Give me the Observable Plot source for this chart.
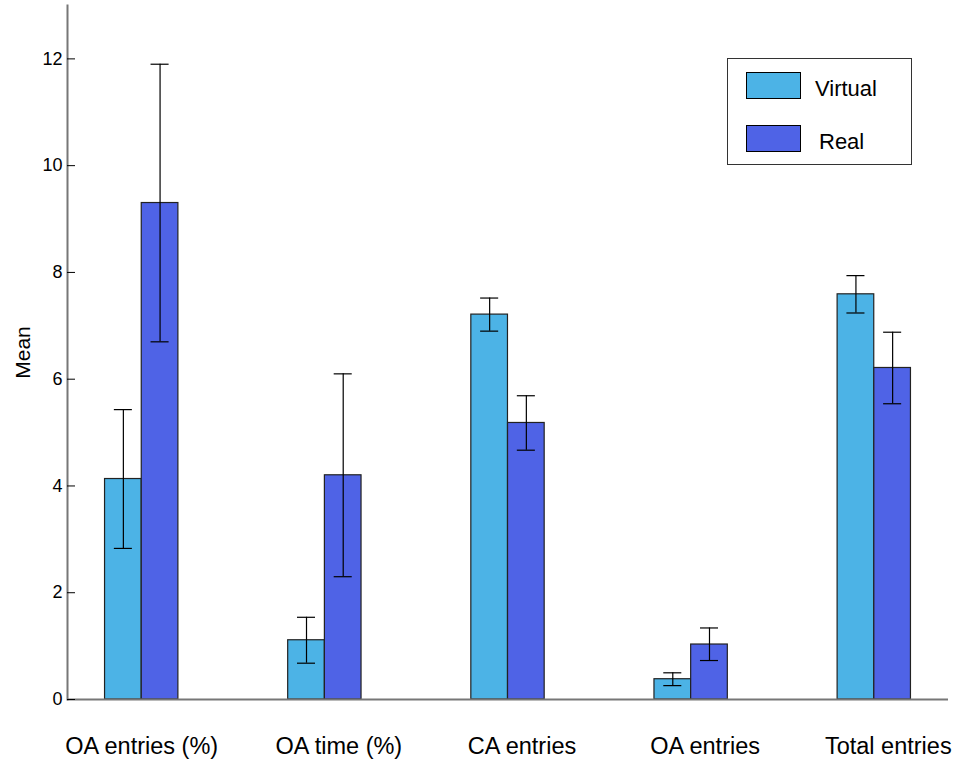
<!DOCTYPE html>
<html>
<head>
<meta charset="utf-8">
<script src="https://cdn.jsdelivr.net/npm/d3@7"></script>
<script src="https://cdn.jsdelivr.net/npm/@observablehq/plot@0.6"></script>
<style>
  body { margin: 0; background: #fff; font-family: "Liberation Sans", Arial, sans-serif; }
  #wrap { position: relative; width: 956px; height: 765px; }
  #legend { position: absolute; left: 727px; top: 58px; width: 183px; height: 105px;
            border: 1px solid #333; background: #fff; }
  .row { position: absolute; left: 18px; display: flex; align-items: center; }
  .sw { width: 55px; height: 27px; border: 1px solid #000; box-sizing: border-box; }
  .lab { font-size: 22px; color: #000; margin-left: 15px; position: relative; top: 3px; }
</style>
</head>
<body>
<div id="wrap"></div>
<script>
// Group labels along the x axis
const categories = ["OA entries (%)", "OA time (%)", "CA entries", "OA entries", "Total entries"];
const series = ["Virtual", "Real"];
const colors = ["#4cb3e6", "#4f63e6"];

// Means with lower / upper error bounds per condition
const virtualMean = [4.13, 1.11, 7.21, 0.38, 7.59];
const virtualLow  = [2.83, 0.68, 6.90, 0.26, 7.24];
const virtualHigh = [5.43, 1.54, 7.52, 0.50, 7.94];
const realMean = [9.30, 4.20, 5.18, 1.03, 6.21];
const realLow  = [6.70, 2.30, 4.67, 0.73, 5.54];
const realHigh = [11.90, 6.10, 5.69, 1.34, 6.88];

const yTicks = [0, 2, 4, 6, 8, 10, 12];

const rows = (means, lows, highs, s) =>
  categories.map((c, i) => ({category: c, series: s, mean: means[i], low: lows[i], high: highs[i]}));
const virtualRows = rows(virtualMean, virtualLow, virtualHigh, series[0]);
const realRows = rows(realMean, realLow, realHigh, series[1]);

// Each band holds the pair of bars: Virtual on the left half, Real on the right half
const half = 36.7;
const capInsetNear = 9.3, capInsetFar = 46;

const errorMarks = (data, side) => {
  const dx = side === 0 ? -half / 2 : half / 2;
  const insets = side === 0
    ? {insetLeft: capInsetNear, insetRight: capInsetFar}
    : {insetLeft: capInsetFar, insetRight: capInsetNear};
  return [
    Plot.ruleX(data, {x: "category", y1: "low", y2: "high", stroke: "#000", strokeWidth: 1.2, dx}),
    Plot.tickY(data, {x: "category", y: "high", stroke: "#000", strokeWidth: 1.2, ...insets}),
    Plot.tickY(data, {x: "category", y: "low", stroke: "#000", strokeWidth: 1.2, ...insets})
  ];
};

const chart = Plot.plot({
  width: 956,
  height: 765,
  marginLeft: 67,
  marginRight: 8,
  marginTop: 5,
  marginBottom: 66,
  style: {fontFamily: "'Liberation Sans', Arial, sans-serif", color: "#000", background: "#fff"},
  x: {type: "band", domain: categories, paddingInner: 0.5995, paddingOuter: 0.205, round: false, axis: null},
  y: {domain: [0, 13], axis: null},
  marks: [
    Plot.barY(virtualRows, {x: "category", y: "mean", fill: colors[0], stroke: "#222", strokeWidth: 1.2, insetRight: half}),
    Plot.barY(realRows, {x: "category", y: "mean", fill: colors[1], stroke: "#222", strokeWidth: 1.2, insetLeft: half}),
    ...errorMarks(virtualRows, 0),
    ...errorMarks(realRows, 1),
    Plot.ruleY([0], {stroke: "#777", strokeWidth: 2}),
    Plot.frame({anchor: "left", stroke: "#777", strokeWidth: 2}),
    Plot.axisY(yTicks, {tickSize: -8, tickPadding: 13, fontSize: 18, tickFormat: d => `${d}`, label: null}),
    Plot.axisY([], {fontSize: 21, label: "Mean", labelAnchor: "center", labelOffset: 52, labelArrow: false}),
    Plot.axisX(categories.slice(0, 1), {tickSize: 0, tickPadding: 38, fontSize: 23.5, label: null}),
    Plot.axisX(categories.slice(1), {tickSize: 0, tickPadding: 38, fontSize: 23.5, label: null, dx: 14})
  ]
});

const wrap = document.getElementById("wrap");
wrap.appendChild(chart);

// Legend box in the upper right of the plot area
const legend = document.createElement("div");
legend.id = "legend";
series.forEach((s, i) => {
  const row = document.createElement("div");
  row.className = "row";
  row.style.top = (13 + i * 53) + "px";
  const sw = document.createElement("div");
  sw.className = "sw";
  sw.style.background = colors[i];
  const lab = document.createElement("span");
  lab.className = "lab";
  lab.style.marginLeft = i === 0 ? "14px" : "18px";
  lab.textContent = s;
  row.appendChild(sw);
  row.appendChild(lab);
  legend.appendChild(row);
});
wrap.appendChild(legend);
</script>
</body>
</html>
